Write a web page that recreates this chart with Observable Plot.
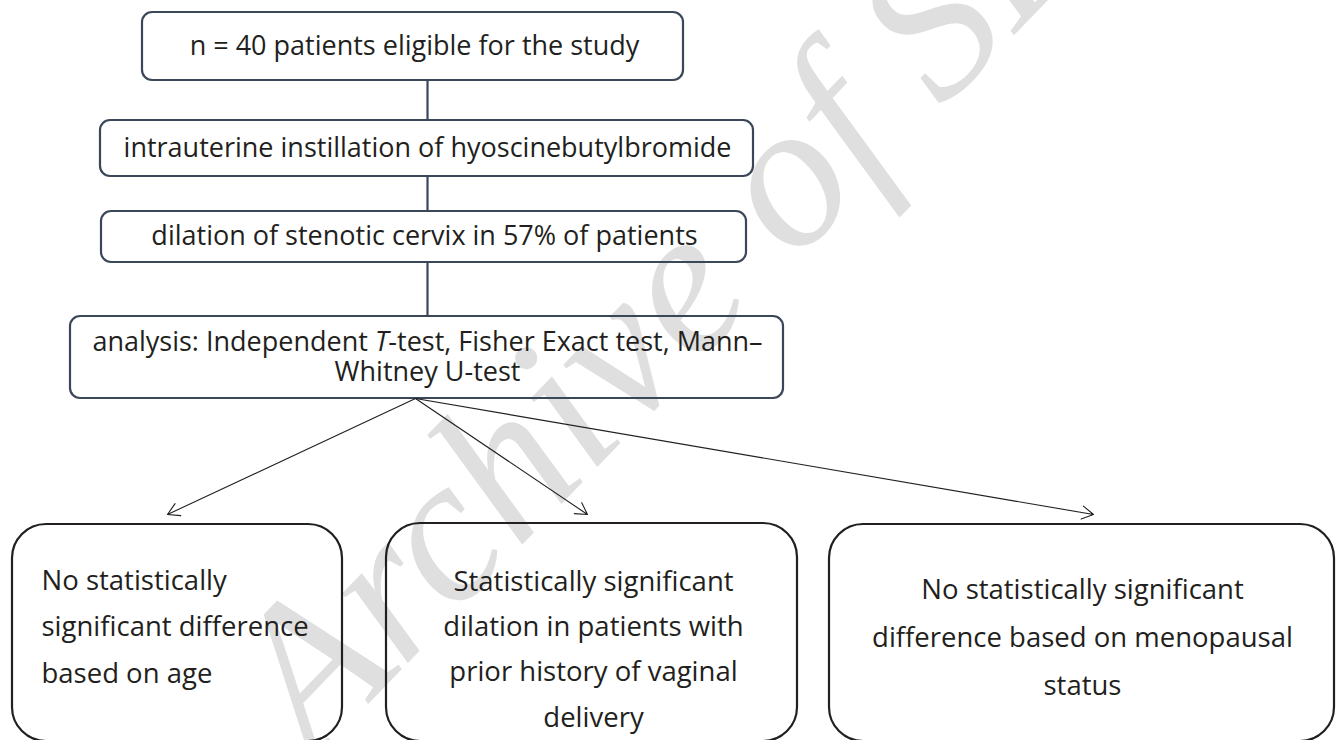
<!DOCTYPE html>
<html>
<head>
<meta charset="utf-8">
<script src="https://cdn.jsdelivr.net/npm/d3@7"></script>
<script src="https://cdn.jsdelivr.net/npm/@observablehq/plot@0.6"></script>
<style>
  html, body { margin: 0; padding: 0; background: #ffffff; }
  #chart { width: 1338px; height: 740px; overflow: hidden; }
</style>
</head>
<body>
<div id="chart"></div>
<script>
// ---------------- data (texts of the flow chart) ----------------
const stepLabels = [
  "n = 40 patients eligible for the study",
  "intrauterine instillation of hyoscinebutylbromide",
  "dilation of stenotic cervix in 57% of patients",
  "analysis: Independent T-test, Fisher Exact test, Mann–\nWhitney U-test"
];
const outcomeLabels = [
  "No statistically\nsignificant difference\nbased on age",
  "Statistically significant\ndilation in patients with\nprior history of vaginal\ndelivery",
  "No statistically significant\ndifference based on menopausal\nstatus"
];
const italicWord = "T";
const watermarkText = "Archive of SID";

// ---------------- layout (pixel frame of the diagram) ----------------
const W = 1338, H = 740;
const stepBoxes = [
  {x1: 142, x2: 683, y1: 12,  y2: 80},
  {x1: 100, x2: 753, y1: 120, y2: 176},
  {x1: 101, x2: 746, y1: 211, y2: 262},
  {x1: 70,  x2: 783, y1: 316, y2: 398}
];
const stepText = [
  {x: 414, y: 45, lh: 1.1},
  {x: 427, y: 147, lh: 1.1},
  {x: 424, y: 235, lh: 1.1},
  {x: 427, y: 356, lh: 1.1}
];
const spineX = 427;
const outcomeBoxes = [
  {x1: 12,  x2: 342,  y1: 524, y2: 741},
  {x1: 386, x2: 797,  y1: 523, y2: 741},
  {x1: 829, x2: 1334, y1: 524, y2: 741}
];
const outcomeText = [
  {x: 41,   y: 621, anchor: "start",  lh: 1.70},
  {x: 593,  y: 644, anchor: "middle", lh: 1.64},
  {x: 1082, y: 631, anchor: "middle", lh: 1.75}
];
const arrowFrom = {x: 415, y: 398};
const arrowTips = [{x: 167, y: 514}, {x: 587, y: 514}, {x: 1093, y: 514}];
const watermarkPos = {x: 692, y: 272, rotate: -46};

// ---------------- build tables ----------------
const steps = stepLabels.map((t, i) => ({text: t, ...stepBoxes[i], tx: stepText[i].x, ty: stepText[i].y, lh: stepText[i].lh}));
const links = stepBoxes.slice(0, -1).map((b, i) => ({x: spineX, y1: b.y2, y2: stepBoxes[i + 1].y1}));
const outcomes = outcomeLabels.map((t, i) => ({text: t, ...outcomeBoxes[i], ...outcomeText[i]}));
const arrows = arrowTips.map(t => ({x1: arrowFrom.x, y1: arrowFrom.y, x2: t.x, y2: t.y}));

const FONT = "'Open Sans', Lato, sans-serif";
const INK = "#231f20";
const BOXSTROKE = "#3b4759";

const marks = [
  Plot.text([{t: watermarkText, ...watermarkPos}], {
    x: "x", y: "y", text: "t", rotate: watermarkPos.rotate,
    fontSize: 208, fontFamily: "'Liberation Serif', 'DejaVu Serif', serif", fontStyle: "italic",
    fill: "#dfdfdf", textAnchor: "middle", lineAnchor: "middle"
  }),
  Plot.rect(steps, {x1: "x1", x2: "x2", y1: "y1", y2: "y2", rx: 10, ry: 10, fill: "none", stroke: BOXSTROKE, strokeWidth: 2.2}),
  Plot.link(links, {x1: "x", x2: "x", y1: "y1", y2: "y2", stroke: BOXSTROKE, strokeWidth: 2.2}),
  Plot.arrow(arrows, {x1: "x1", y1: "y1", x2: "x2", y2: "y2", stroke: INK, strokeWidth: 1.1, headLength: 18, headAngle: 60}),
  Plot.rect(outcomes, {x1: "x1", x2: "x2", y1: "y1", y2: "y2", rx: 34, ry: 34, fill: "none", stroke: INK, strokeWidth: 2.2}),
  ...steps.map(s => Plot.text([s], {x: "tx", y: "ty", text: "text", fontSize: 27, lineHeight: s.lh, fill: INK, fontFamily: FONT, textAnchor: "middle", lineAnchor: "middle"})),
  ...outcomes.map(o => Plot.text([o], {x: "x", y: "y", text: "text", fontSize: 27.5, lineHeight: o.lh, fill: INK, fontFamily: FONT, textAnchor: o.anchor, lineAnchor: "middle"}))
];

const chart = Plot.plot({
  width: W, height: H,
  margin: 0,
  x: {domain: [0, W], range: [0, W], axis: null},
  y: {domain: [0, H], range: [0, H], axis: null},
  style: {background: "#ffffff", fontFamily: FONT},
  marks
});

// italicise the "T" of "T-test"
const NS = "http://www.w3.org/2000/svg";
chart.querySelectorAll("text, tspan").forEach(el => {
  if (el.childElementCount === 0 && el.textContent.includes("Independent " + italicWord + "-test")) {
    const s = el.textContent;
    const i = s.indexOf(italicWord + "-test");
    el.textContent = "";
    el.append(s.slice(0, i));
    const it = document.createElementNS(NS, "tspan");
    it.setAttribute("font-style", "italic");
    it.textContent = italicWord;
    el.append(it);
    el.append(s.slice(i + italicWord.length));
  }
});

document.getElementById("chart").append(chart);
</script>
</body>
</html>
